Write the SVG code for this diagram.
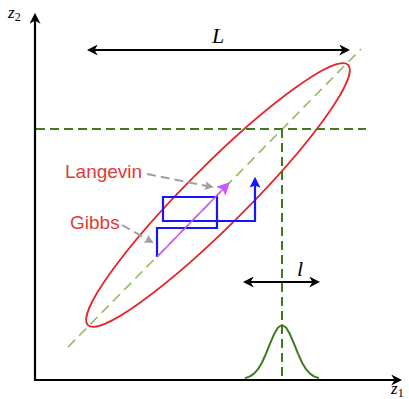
<svg xmlns="http://www.w3.org/2000/svg" width="409" height="399" viewBox="0 0 409 399">
<style>
.dk{fill:none;stroke:#3f7a23;stroke-width:2;stroke-dasharray:9,5}
.lg{fill:none;stroke:#97b965;stroke-width:1.6;stroke-dasharray:10,6}
.bk{fill:none;stroke:#000;stroke-width:2.2}
.lab{font-family:"Liberation Sans",Arial,sans-serif;font-size:19px;fill:#e03a3a}
.mth{font-family:"Liberation Serif","Times New Roman",serif;font-style:italic;fill:#000}
.gr{fill:none;stroke:#a0a0a0;stroke-width:2;stroke-dasharray:9,5}
</style>
<defs>
<marker id="ah" viewBox="0 0 10 10" refX="8" refY="5" markerWidth="5" markerHeight="5" orient="auto-start-reverse" markerUnits="strokeWidth">
<path d="M0,0 L10,5 L0,10 L3,5 Z" fill="#000"/>
</marker>
<marker id="ab" viewBox="0 0 10 10" refX="8" refY="5" markerWidth="5" markerHeight="5" orient="auto" markerUnits="strokeWidth">
<path d="M0,0 L10,5 L0,10 L2,5 Z" fill="#1515ff"/>
</marker>
<marker id="am" viewBox="0 0 10 10" refX="8" refY="5" markerWidth="8" markerHeight="8" orient="auto" markerUnits="strokeWidth">
<path d="M0,0 L10,5 L0,10 L2,5 Z" fill="#cc55ff"/>
</marker>
<marker id="ag" viewBox="0 0 10 10" refX="8" refY="5" markerWidth="4.5" markerHeight="4.5" orient="auto" markerUnits="strokeWidth">
<path d="M0,0 L10,5 L0,10 L2,5 Z" fill="#a0a0a0"/>
</marker>
</defs>
<g id="diagonal"><line class="lg" x1="68" y1="347" x2="361" y2="49"/></g>
<g id="ellipse"><ellipse cx="218" cy="195" rx="184" ry="30" transform="rotate(-45 218 195)" fill="none" stroke="#e3262a" stroke-width="1.8"/></g>
<g id="guides">
<line class="dk" x1="36" y1="129" x2="366" y2="129"/>
<line class="dk" x1="282" y1="129" x2="282" y2="379"/>
</g>
<g id="gaussian"><path d="M245,378.1 L250,376.4 L254,373.7 L258,369.2 L262,362.5 L266,353.7 L270,343.7 L274,334.3 L278,327.5 L282,325 L286,327.5 L290,334.3 L294,343.7 L298,353.7 L302,362.5 L306,369.2 L310,373.7 L314,376.4 L319,378.1" fill="none" stroke="#3f7a23" stroke-width="2" stroke-linejoin="round"/></g>
<g id="gibbs-path"><path d="M157,257 V228 H217 V197 H163 V221 H255 V179" fill="none" stroke="#1515ff" stroke-width="2.2" marker-end="url(#ab)"/></g>
<g id="langevin-path"><line x1="157" y1="257" x2="228" y2="184" stroke="#cc55ff" stroke-width="1.6" marker-end="url(#am)"/></g>
<g id="connectors">
<line class="gr" x1="147" y1="174" x2="212" y2="187" marker-end="url(#ag)"/>
<line class="gr" x1="122" y1="225" x2="152" y2="242" marker-end="url(#ag)"/>
<line class="bk" x1="89" y1="50" x2="348" y2="50" marker-start="url(#ah)" marker-end="url(#ah)"/>
<line class="bk" x1="245" y1="282" x2="318" y2="282" marker-start="url(#ah)" marker-end="url(#ah)"/>
</g>
<g id="axes">
<path class="bk" d="M35,15 V380 H400" marker-start="url(#ah)" marker-end="url(#ah)"/>
</g>
<g id="labels">
<text class="lab" x="65" y="178">Langevin</text>
<text class="lab" x="70" y="229">Gibbs</text>
<text class="mth" x="212" y="43" font-size="22">L</text>
<text class="mth" x="297" y="276" font-size="22">l</text>
<text class="mth" x="8" y="18" font-size="17">z<tspan font-size="12" font-style="normal" dy="3">2</tspan></text>
<text class="mth" x="391" y="394" font-size="17">z<tspan font-size="12" font-style="normal" dy="3">1</tspan></text>
</g>
</svg>
